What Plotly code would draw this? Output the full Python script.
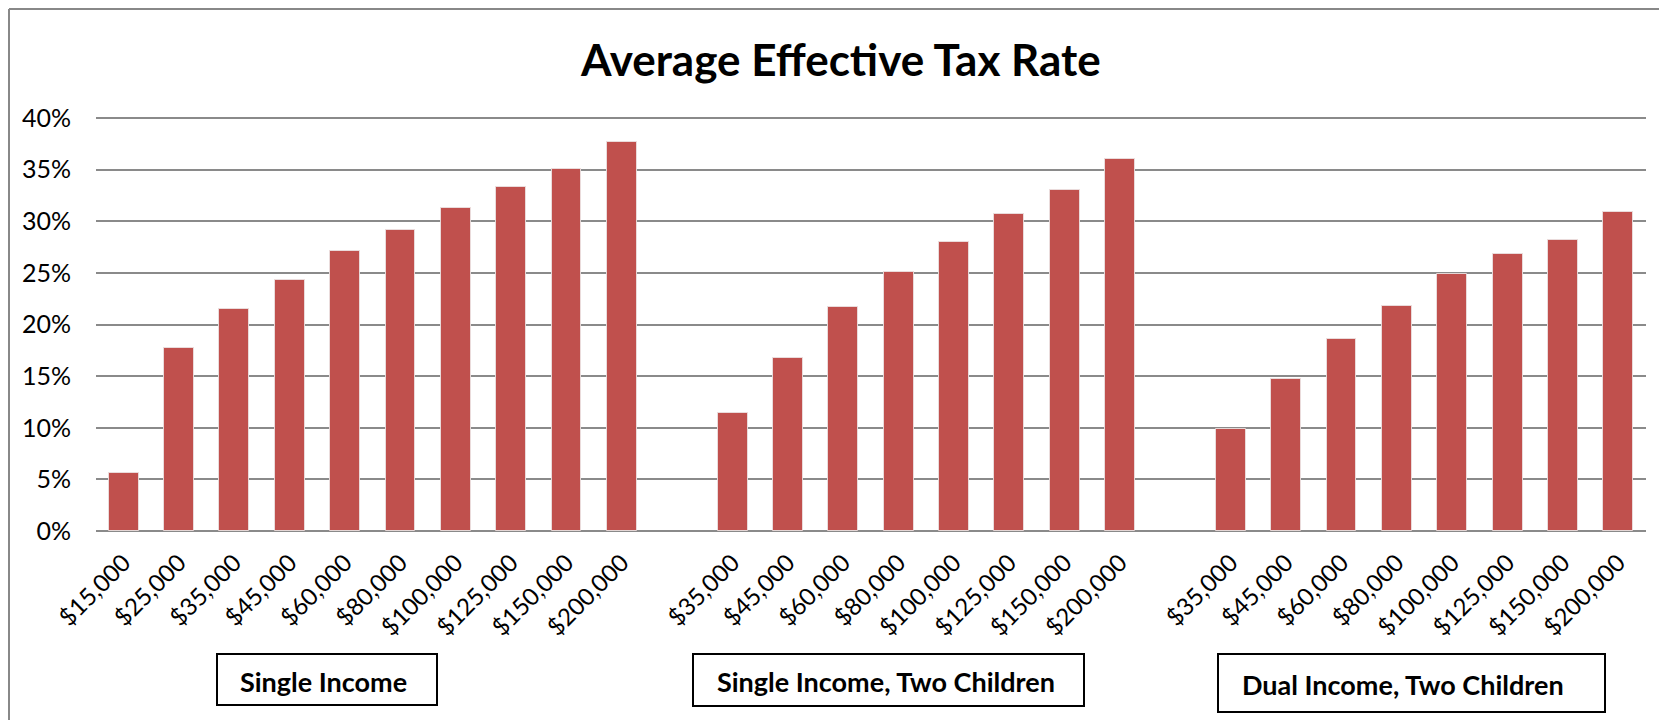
import plotly.graph_objects as go

# ---------------- data ----------------
group_names = ["Single Income", "Single Income, Two Children", "Dual Income, Two Children"]

single_labels = ["$15,000", "$25,000", "$35,000", "$45,000", "$60,000",
                 "$80,000", "$100,000", "$125,000", "$150,000", "$200,000"]
single_rates = [5.6, 17.7, 21.5, 24.3, 27.1, 29.2, 31.3, 33.3, 35.1, 37.7]

single_kids_labels = ["$35,000", "$45,000", "$60,000", "$80,000",
                      "$100,000", "$125,000", "$150,000", "$200,000"]
single_kids_rates = [11.4, 16.8, 21.7, 25.1, 28.0, 30.7, 33.0, 36.0]

dual_kids_labels = ["$35,000", "$45,000", "$60,000", "$80,000",
                    "$100,000", "$125,000", "$150,000", "$200,000"]
dual_kids_rates = [9.9, 14.7, 18.6, 21.8, 24.9, 26.8, 28.2, 30.9]

y_ticks = [0, 5, 10, 15, 20, 25, 30, 35, 40]

# ---------------- layout constants ----------------
OFF = 8                      # page body margin offset
W, H = 1667 - OFF, 720 - OFF
Y40, Y0 = 118, 531           # page pixel rows of 40% and 0%
PLOT_L, PLOT_R, PLOT_T, PLOT_B = 96, 1646, 116, Y0
YMAX = 0.40 * (PLOT_B - PLOT_T) / (Y0 - Y40)
ML, MT = PLOT_L - OFF, PLOT_T - OFF
MR, MB = W - (PLOT_R - OFF), H - (PLOT_B - OFF)
PW, PH = W - ML - MR, H - MT - MB
FONT = "Lato"
BAR_COLOR = "#C0504D"
GRID = "#8a8a8a"

def px_x(p):
    return (p - PLOT_L) / PW

def px_y(p):
    return (PLOT_B - p) / PH

# build slot positions: one empty slot between groups
groups = [(single_labels, single_rates),
          (single_kids_labels, single_kids_rates),
          (dual_kids_labels, dual_kids_rates)]
xs, ys, labels = [], [], []
pos = 0
for gi, (lab, val) in enumerate(groups):
    if gi > 0:
        pos += 1
    for l, v in zip(lab, val):
        xs.append(pos)
        ys.append(v / 100)
        labels.append(l)
        pos += 1
n_slots = pos

fig = go.Figure()
fig.add_trace(go.Bar(
    x=xs, y=ys, width=0.54,
    marker=dict(color=BAR_COLOR, line=dict(color="rgba(235,225,225,0.9)", width=1)),
    hoverinfo="skip",
))

fig.update_layout(
    width=W, height=H,
    margin=dict(l=ML, r=MR, t=MT, b=MB, autoexpand=False),
    paper_bgcolor="white", plot_bgcolor="white",
    showlegend=False,
    font=dict(family=FONT, color="#000000"),
    bargap=0,
)

fig.update_xaxes(
    range=[-0.5, n_slots - 0.5],
    tickmode="array", tickvals=xs, ticktext=labels,
    tickangle=-45, tickfont=dict(size=24, family=FONT, color="#000"),
    showgrid=False, zeroline=False, showline=False, ticks="",
    ticklabelstandoff=12,
)
fig.update_yaxes(
    range=[0, YMAX],
    tickmode="array", tickvals=[t / 100 for t in y_ticks],
    ticktext=[f"{t}%" for t in y_ticks],
    tickfont=dict(size=25, family=FONT, color="#000"),
    showgrid=True, gridcolor=GRID, gridwidth=2,
    zeroline=True, zerolinecolor=GRID, zerolinewidth=2,
    showline=False, ticks="", ticklabelstandoff=24,
)

# title
fig.add_annotation(
    text="<b>Average Effective Tax Rate</b>",
    xref="paper", yref="paper",
    x=px_x(840), y=px_y(59), xanchor="center", yanchor="middle",
    showarrow=False, font=dict(size=44, family=FONT, color="#000"),
)

# chart border (left and top visible, at the figure's edge)
bx, by = px_x(OFF + 1), px_y(OFF + 1)
fig.add_shape(type="line", xref="paper", yref="paper",
              x0=bx, x1=bx, y0=by, y1=px_y(730), line=dict(color="#888", width=2))
fig.add_shape(type="line", xref="paper", yref="paper",
              x0=bx, x1=px_x(1680), y0=by, y1=by, line=dict(color="#888", width=2))

# group label boxes (page pixel coords)
boxes = [(217, 437, 654, 705, 238, 681),
         (693, 1084, 654, 706, 715, 681),
         (1218, 1605, 654, 712, 1240, 684)]
for name, (x0, x1, y0, y1, tx, ty) in zip(group_names, boxes):
    fig.add_shape(type="rect", xref="paper", yref="paper",
                  x0=px_x(x0), x1=px_x(x1), y0=px_y(y1), y1=px_y(y0),
                  line=dict(color="black", width=2), fillcolor="white")
    fig.add_annotation(text=f"<b>{name}</b>", xref="paper", yref="paper",
                       x=px_x(tx), y=px_y(ty), xanchor="left", yanchor="middle",
                       showarrow=False, font=dict(size=27, family=FONT, color="#000"))

fig.write_html("out.html")
